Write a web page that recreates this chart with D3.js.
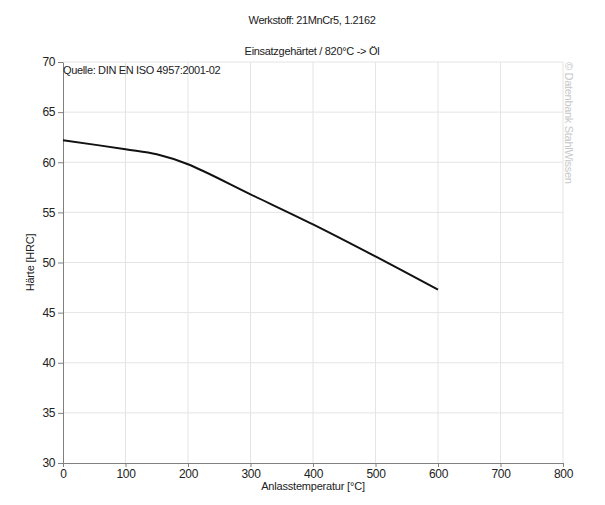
<!DOCTYPE html>
<html>
<head>
<meta charset="utf-8">
<script src="https://cdn.jsdelivr.net/npm/d3@7"></script>
<style>
  body { margin: 0; background: #fff; }
  svg text { font-family: "Liberation Sans", Arial, sans-serif; }
</style>
</head>
<body>
<div id="viz"><svg></svg></div>
<script>
// anlasstemperatur [°C] and hardness [HRC]
const temps = [0, 100, 150, 200, 300, 400, 500, 600];
const hardness = [62.2, 61.3, 60.8, 59.8, 56.8, 53.8, 50.6, 47.3];
const xTicks = [0, 100, 200, 300, 400, 500, 600, 700, 800];
const yTicks = [30, 35, 40, 45, 50, 55, 60, 65, 70];

const SETTINGS = {
    width: 605,
    height: 505,
    margin: {top: 62, right: 42, bottom: 42, left: 63},
    fontSize: 11
};

let svg = d3.select('#viz').select('svg')
    .attr('width', SETTINGS.width)
    .attr('height', SETTINGS.height);

let xScale = d3.scaleLinear()
    .domain([0, 800])
    .range([SETTINGS.margin.left, SETTINGS.width - SETTINGS.margin.right]);
let yScale = d3.scaleLinear()
    .domain([30, 70])
    .range([SETTINGS.height - SETTINGS.margin.bottom, SETTINGS.margin.top]);

// grid
svg.append('g')
    .selectAll('line')
    .data(xTicks.slice(1))
    .enter()
    .append('line')
    .attr('x1', d => xScale(d)).attr('x2', d => xScale(d))
    .attr('y1', yScale(30)).attr('y2', yScale(70))
    .attr('stroke', '#e4e4e4');
svg.append('g')
    .selectAll('line')
    .data(yTicks.slice(1))
    .enter()
    .append('line')
    .attr('x1', xScale(0)).attr('x2', xScale(800))
    .attr('y1', d => yScale(d)).attr('y2', d => yScale(d))
    .attr('stroke', '#e4e4e4');

// axes
let xAxis = svg.append('g')
    .attr('transform', `translate(0,${yScale(30)})`)
    .call(d3.axisBottom(xScale).tickValues(xTicks).tickSize(4).tickPadding(2).tickSizeOuter(0));
let yAxis = svg.append('g')
    .attr('transform', `translate(${xScale(0)},0)`)
    .call(d3.axisLeft(yScale).tickValues(yTicks).tickSize(5).tickPadding(3).tickSizeOuter(0));

[xAxis, yAxis].forEach(a => {
    a.select('.domain').attr('stroke', '#808080');
    a.selectAll('.tick line').attr('stroke', '#808080');
    a.selectAll('.tick text')
        .attr('font-size', SETTINGS.fontSize + 1)
        .attr('font-family', '"Liberation Sans", Arial, sans-serif')
        .attr('letter-spacing', '-0.4px')
        .attr('fill', '#222');
});

// curve
let line = d3.line()
    .x((d, i) => xScale(temps[i]))
    .y(d => yScale(d))
    .curve(d3.curveCatmullRom);

svg.append('path')
    .datum(hardness)
    .attr('d', line)
    .attr('fill', 'none')
    .attr('stroke', '#111')
    .attr('stroke-width', 2);

// texts
function label(x, y, txt, anchor, spacing) {
    return svg.append('text')
        .attr('x', x).attr('y', y)
        .attr('text-anchor', anchor)
        .attr('font-size', SETTINGS.fontSize)
        .attr('letter-spacing', spacing)
        .attr('fill', '#222')
        .text(txt);
}
label(312, 24, 'Werkstoff: 21MnCr5, 1.2162', 'middle', '-0.4px');
label(312, 55, 'Einsatzgehärtet / 820°C -> Öl', 'middle', '-0.3px');
label(xScale(0) + 0, 74, 'Quelle: DIN EN ISO 4957:2001-02', 'start', '-0.35px');
label(xScale(400), 490, 'Anlasstemperatur [°C]', 'middle', '-0.2px');

svg.append('text')
    .attr('transform', `translate(34,${yScale(50)}) rotate(-90)`)
    .attr('text-anchor', 'middle')
    .attr('font-size', SETTINGS.fontSize)
    .attr('letter-spacing', '-0.2px')
    .attr('fill', '#222')
    .text('Härte [HRC]');

svg.append('text')
    .attr('transform', `translate(565,${SETTINGS.margin.top}) rotate(90)`)
    .attr('font-size', SETTINGS.fontSize)
    .attr('letter-spacing', '-0.3px')
    .attr('fill', '#c8c8c8')
    .text('© Datenbank StahlWissen');
</script>
</body>
</html>
